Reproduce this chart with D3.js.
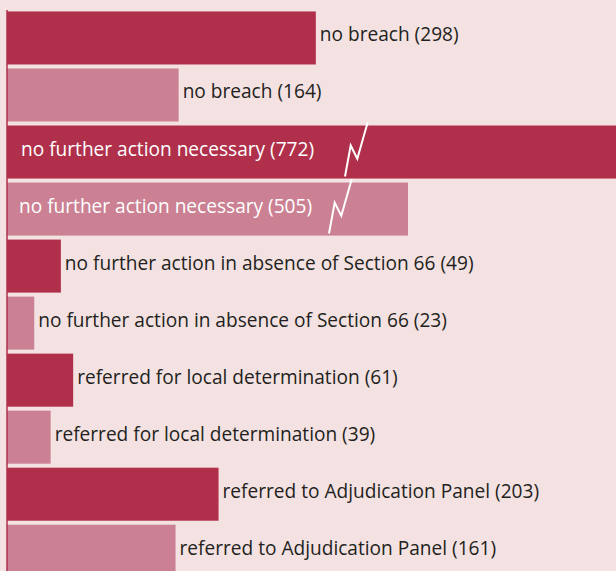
<!doctype html>
<html lang="en">
<head>
    <meta charset="utf-8" />
    <title>Outcomes</title>
    <style>
        html, body { margin: 0; padding: 0; background: #f4e2e2; }
        svg { display: block; }
    </style>
</head>
<body>
    <svg id="chart"></svg>

    <script src="https://cdn.jsdelivr.net/npm/d3@7/dist/d3.min.js"></script>
    <script>
        // outcome categories, two periods each (dark = current, light = previous)
        const categories = [
            "no breach",
            "no further action necessary",
            "no further action in absence of Section 66",
            "referred for local determination",
            "referred to Adjudication Panel"
        ];
        const currentValues = [298, 772, 49, 61, 203];
        const previousValues = [164, 505, 23, 39, 161];
        // values too large for the axis get a break mark and an inside label
        const brokenValues = [772, 505];

        const width = 616, height = 571;
        const colors = { current: "#b0304c", previous: "#cb8193" };

        const rows = [];
        categories.forEach((c, i) => {
            rows.push({ name: c, value: currentValues[i], kind: "current" });
            rows.push({ name: c, value: previousValues[i], kind: "previous" });
        });

        const svg = d3.select("#chart")
            .attr("width", width)
            .attr("height", height);

        svg.append("rect")
            .attr("width", width).attr("height", height)
            .attr("fill", "#f4e2e2");

        const axisX = 7;

        // broken axis: linear up to the break, then compressed
        const x = d3.scaleLinear()
            .domain([0, 380, 505, 772])
            .range([10.7, 399.8, 408, 640]);

        const y = d3.scaleBand()
            .domain(d3.range(rows.length))
            .range([8.6, 8.6 + 57.2 * rows.length])
            .paddingInner(0.07)
            .paddingOuter(0.05);

        const bar = svg.append("g")
            .selectAll("g")
            .data(rows)
            .join("g")
            .attr("transform", (d, i) => `translate(0, ${y(i)})`);

        bar.append("rect")
            .attr("x", axisX)
            .attr("width", d => x(d.value) - axisX)
            .attr("height", y.bandwidth())
            .attr("fill", d => colors[d.kind]);

        bar.append("text")
            .attr("x", d => brokenValues.includes(d.value)
                ? (d.kind === "current" ? 21 : 19)
                : x(d.value) + 4)
            .attr("y", y.bandwidth() / 2 - 3.5)
            .attr("dominant-baseline", "central")
            .attr("font-family", "'Open Sans', sans-serif")
            .attr("font-size", 19.1)
            .attr("fill", d => brokenValues.includes(d.value) ? "#ffffff" : "#231f20")
            .text(d => `${d.name} (${d.value})`);

        // break marks on the oversized bars
        const zig = d3.line();
        bar.filter(d => brokenValues.includes(d.value))
            .append("path")
            .attr("transform", d => d.kind === "current" ? "translate(345, 0)" : "translate(329, 0)")
            .attr("d", zig([[0, 51], [5.7, 20], [12.3, 33.3], [22.7, -3.3]]))
            .attr("fill", "none")
            .attr("stroke", "#ffffff")
            .attr("stroke-width", 2);

        // left axis line
        svg.append("line")
            .attr("x1", axisX).attr("x2", axisX)
            .attr("y1", 10).attr("y2", height)
            .attr("stroke", "#b0304c")
            .attr("stroke-width", 1.5);
    </script>
</body>
</html>
